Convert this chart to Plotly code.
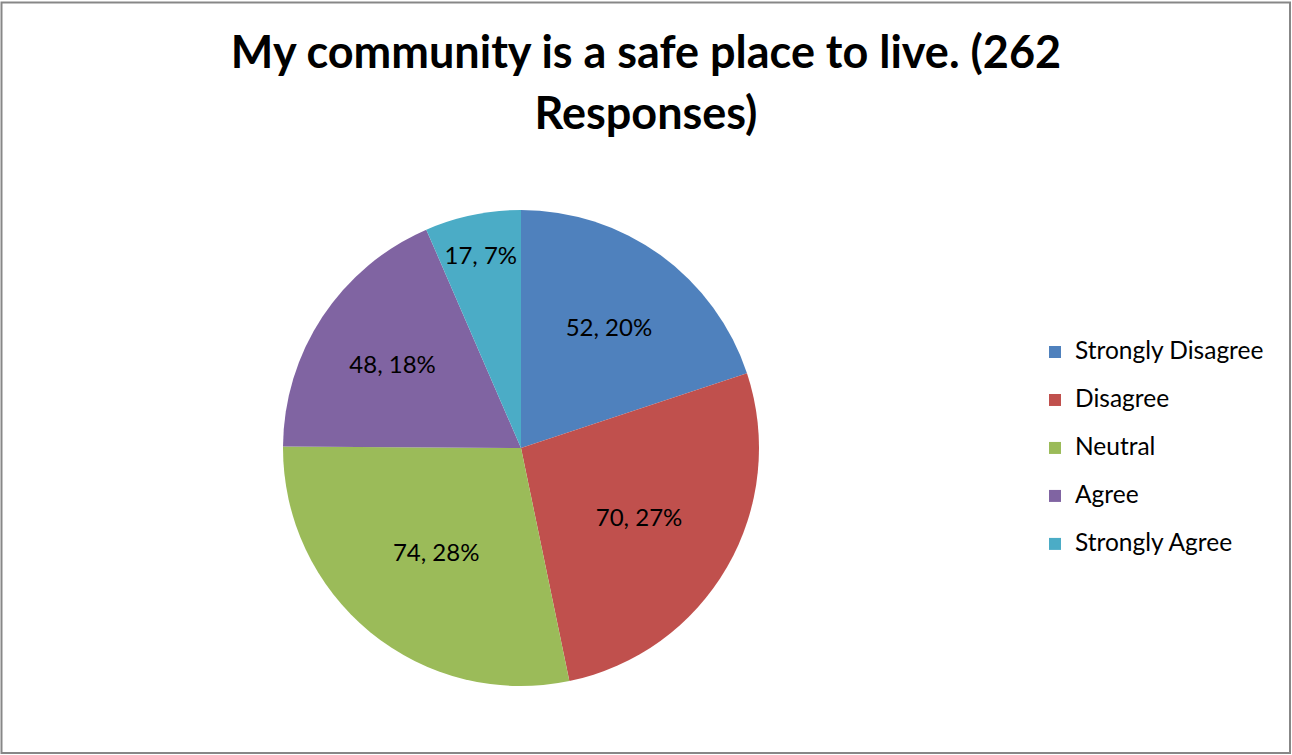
import plotly.graph_objects as go

categories = ["Strongly Disagree", "Disagree", "Neutral", "Agree", "Strongly Agree"]
responses = [52, 70, 74, 48, 17]
colors = ["#4F81BD", "#C0504D", "#9BBB59", "#8064A2", "#4BACC6"]
title_lines = ["My community is a safe place to live. (262", "Responses)"]

W, H = 1292, 755
cx, cy, r = 521, 448, 238

legend_labels = [f"<span style='font-size:24.5px;baseline-shift:6px'>{c}</span>" for c in categories]

fig = go.Figure(go.Pie(
    labels=legend_labels,
    values=responses,
    marker=dict(colors=colors, line=dict(width=0)),
    sort=False,
    direction="clockwise",
    rotation=0,
    texttemplate="%{value}, %{percent:.0%}",
    textposition="inside",
    insidetextorientation="horizontal",
    textfont=dict(family="Lato", size=24, color="black"),
    domain=dict(x=[(cx - r) / W, (cx + r) / W], y=[(H - cy - r) / H, (H - cy + r) / H]),
    hoverinfo="label+value+percent",
))

fig.update_layout(
    width=W, height=H,
    margin=dict(l=0, r=0, t=0, b=0),
    paper_bgcolor="white",
    font=dict(family="Lato", color="black"),
    title=dict(
        text="<br>".join(f"<span style='font-size:45px'>{t}</span>" for t in title_lines),
        x=646 / W, xanchor="center",
        y=1 - 68 / H, yanchor="top",
        font=dict(family="Lato", size=47, color="black", weight="bold"),
    ),
    showlegend=True,
    legend=dict(
        x=1035 / W, xanchor="left",
        y=1 - 323 / H, yanchor="top",
        font=dict(family="Lato", size=34.6, color="black"),
        bgcolor="rgba(0,0,0,0)",
    ),
    shapes=[dict(type="rect", xref="paper", yref="paper",
                 x0=1.5 / W, x1=1 - 2 / W, y0=2 / H, y1=1 - 2.5 / H,
                 line=dict(color="#878787", width=2))],
)

fig.write_html("out.html", config={"displayModeBar": False},
               post_script="document.body.style.margin='0';")
